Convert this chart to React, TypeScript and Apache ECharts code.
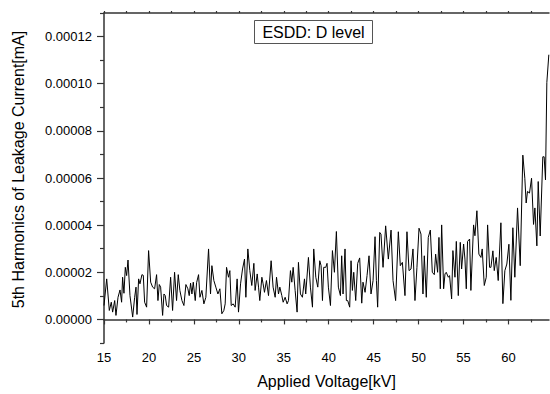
import React, { useEffect, useRef } from "react";
import * as echarts from "echarts";

const FONT = 'Arial, "Liberation Sans", Helvetica, sans-serif';
const UNIT = 1e-5; // harmonic values below are in units of 1e-5 mA

const voltage = [
  15.0, 15.3, 15.59, 15.81, 15.96, 16.19, 16.33, 16.56, 16.78, 16.96, 17.07, 17.22, 17.37, 17.52, 17.67, 17.89,
  18.19, 18.41, 18.56, 18.67, 18.85, 19.0, 19.22, 19.37, 19.52, 19.74, 19.96, 20.19, 20.41, 20.63, 20.85, 21.0,
  21.15, 21.3, 21.52, 21.67, 21.81, 21.96, 22.19, 22.41, 22.63, 22.85, 23.07, 23.26, 23.44, 23.67, 23.89, 24.11,
  24.33, 24.48, 24.63, 24.78, 24.93, 25.15, 25.3, 25.52, 25.67, 25.89, 26.11, 26.33, 26.63, 26.85, 27.0, 27.22,
  27.44, 27.67, 27.89, 28.11, 28.33, 28.48, 28.63, 28.85, 29.0, 29.15, 29.37, 29.59, 29.81, 29.96, 30.19, 30.41,
  30.63, 30.78, 31.0, 31.22, 31.44, 31.67, 31.81, 32.04, 32.19, 32.33, 32.56, 32.7, 32.85, 33.07, 33.3, 33.59,
  33.81, 34.04, 34.19, 34.41, 34.56, 34.78, 34.93, 35.15, 35.37, 35.52, 35.74, 35.89, 36.04, 36.26, 36.48, 36.63,
  36.85, 37.07, 37.3, 37.44, 37.74, 37.96, 38.19, 38.33, 38.56, 38.78, 39.0,
  39.15, 39.3, 39.44, 39.67, 39.81, 39.96, 40.19, 40.41, 40.63, 40.85, 41.07, 41.3, 41.44, 41.59, 41.81, 41.96,
  42.11, 42.33, 42.48, 42.63, 42.78, 43.0, 43.22, 43.44, 43.67, 43.81, 44.04, 44.26, 44.48, 44.7, 44.93, 45.15,
  45.3, 45.44, 45.67, 45.81, 46.04, 46.33, 46.63, 46.93, 47.15, 47.44, 47.74, 47.96, 48.19, 48.48, 48.7, 48.93,
  49.15, 49.37, 49.59, 49.81, 50.04, 50.26, 50.48, 50.63, 50.85, 51.07, 51.3, 51.52, 51.74, 51.89, 52.11, 52.26,
  52.41, 52.56, 52.78, 52.93, 53.07, 53.3, 53.44, 53.67, 53.81, 54.04, 54.19, 54.41, 54.63, 54.78, 55.0, 55.15,
  55.3, 55.44, 55.67, 55.81, 56.11, 56.26, 56.48, 56.7, 56.93, 57.07, 57.3, 57.52, 57.67, 57.89,
  58.04, 58.26, 58.41, 58.63, 58.85, 59.15, 59.37, 59.59, 59.81, 60.04, 60.26, 60.48, 60.7, 61.0, 61.3, 61.59,
  61.81, 61.96, 62.11, 62.33, 62.56, 62.78, 62.93, 63.15, 63.3, 63.52, 63.81, 63.96, 64.11, 64.26, 64.48,
];

const harmonic = [
  0.59, 1.72, 0.38, 0.73, 0.31, 0.8, 0.17, 0.94, 1.25, 0.73, 1.79, 1.11, 2.21, 1.86, 2.52, 1.01,
  0.1, 0.94, 1.37, 0.21, 1.72, 1.51, 1.9, 1.87, 0.73, 0.52, 2.92, 1.58, 1.37, 1.3, 1.9, 0.8,
  1.48, 1.37, 0.17, 1.08, 1.01, 0.59, 0.52, 1.79, 0.38, 2.0, 0.8, 1.9, 1.23, 0.8, 0.59, 1.48,
  1.3, 1.01, 1.54, 1.08, 1.58, 0.8, 1.56, 1.9, 0.94, 1.23, 0.66, 0.94, 2.99, 1.08, 2.28, 1.65,
  1.37, 1.08, 1.3, 0.24, 0.38, 0.66, 2.21, 1.79, 2.07, 0.59, 0.66, 0.52, 1.72, 0.31, 1.51, 2.14,
  2.56, 0.94, 2.99, 2.07, 1.44, 2.38, 1.23, 1.93, 1.37, 0.8, 1.79, 1.51, 1.15, 1.65, 1.01, 2.49,
  1.37, 0.94, 1.79, 1.08, 1.37, 1.01, 0.73, 0.94, 0.66, 0.8, 2.07, 1.58, 2.21, 1.23, 0.31, 2.42,
  1.08, 0.94, 1.72, 1.08, 2.63, 1.37, 0.52, 2.99, 1.79, 1.37, 2.49,
  2.28, 0.8, 2.21, 2.21, 2.38, 1.37, 0.59, 2.92, 2.0, 3.73, 1.37, 1.01, 2.7, 1.08, 2.99, 0.8,
  0.8, 0.52, 2.49, 1.23, 2.0, 0.8, 2.38, 2.61, 0.69, 1.58, 1.15, 1.86, 2.7, 1.08, 1.65, 3.51,
  1.65, 0.52, 3.69, 3.62, 2.21, 3.97, 2.56, 3.79, 1.65, 0.8, 3.72, 2.28, 2.42, 1.01, 3.72, 2.07,
  2.14, 2.99, 0.8, 2.21, 3.87, 3.62, 1.08, 2.7, 0.94, 3.48, 3.79, 2.0, 1.9, 2.77, 2.0, 3.48,
  1.3, 4.01, 1.3, 1.93, 2.0, 1.79, 1.86, 0.87, 2.92, 1.79, 3.31, 1.01, 3.27, 2.14, 3.2, 2.56,
  1.3, 3.31, 3.41, 1.23, 4.01, 3.55, 4.61, 2.77, 2.63, 2.99, 1.44, 1.79, 4.01, 2.21,
  2.21, 2.91, 2.07, 2.63, 1.65, 4.1, 0.67, 2.07, 2.35, 3.19, 0.81, 3.89, 1.79, 4.73, 2.28, 6.97,
  5.99, 4.94, 5.43, 5.36, 5.99, 4.03, 4.73, 3.12, 5.85, 3.54, 6.9, 6.9, 5.92, 10.05, 11.23,
];

const xMajorTicks = [15, 20, 25, 30, 35, 40, 45, 50, 55, 60];
const xMinorTicks = [17.5, 22.5, 27.5, 32.5, 37.5, 42.5, 47.5, 52.5, 57.5, 62.5];
const yMajorTicks = [0, 2, 4, 6, 8, 10, 12];
const yMinorTicks = [-1, 1, 3, 5, 7, 9, 11, 13];

const legendLabel = "ESDD: D level";
const xName = "Applied Voltage[kV]";
const yName = "5th Harmonics of Leakage Current[mA]";

export default function App() {
  const ref = useRef<HTMLDivElement>(null);

  useEffect(() => {
    if (!ref.current) return;
    const chart = echarts.init(ref.current, null, { renderer: "svg" });
    const axisColor = "#333";
    const data = voltage.map((v, i) => [v, harmonic[i] * UNIT]);
    const yMaj = yMajorTicks.map((k) => k * UNIT);
    const yMin = yMinorTicks.map((k) => k * UNIT);

    chart.setOption({
      animation: false,
      backgroundColor: "#fff",
      grid: { left: 104, right: 1, top: 13, bottom: 48, containLabel: false },
      xAxis: [
        {
          type: "value",
          position: "bottom",
          min: 15,
          max: 64.5,
          interval: 5,
          name: xName,
          nameLocation: "middle",
          nameGap: 30,
          nameTextStyle: { fontFamily: FONT, fontSize: 16, color: "#000" },
          axisLine: { show: true, lineStyle: { color: axisColor, width: 1.5 } },
          axisTick: { show: true, length: 5, inside: false, customValues: xMajorTicks, lineStyle: { color: axisColor, width: 1.2 } },
          axisLabel: {
            customValues: xMajorTicks,
            margin: 8,
            fontFamily: FONT,
            fontSize: 13,
            color: "#000",
            formatter: (v: number) => String(v),
          },
          splitLine: { show: false },
        },
        {
          type: "value",
          position: "bottom",
          min: 15,
          max: 64.5,
          axisLine: { show: false },
          axisTick: { show: true, length: 3, customValues: xMinorTicks, lineStyle: { color: axisColor, width: 1.2 } },
          axisLabel: { show: false },
          splitLine: { show: false },
        },
        {
          type: "value",
          position: "top",
          min: 15,
          max: 64.5,
          axisLine: { show: true, lineStyle: { color: axisColor, width: 1.5 } },
          axisTick: {
            show: true,
            length: 2,
            customValues: [...xMajorTicks, ...xMinorTicks],
            lineStyle: { color: axisColor, width: 1.2 },
          },
          axisLabel: { show: false },
          splitLine: { show: false },
        },
      ],
      yAxis: [
        {
          type: "value",
          position: "left",
          min: -1 * UNIT,
          max: 13 * UNIT,
          name: yName,
          nameLocation: "middle",
          nameGap: 78,
          nameTextStyle: { fontFamily: FONT, fontSize: 16, color: "#000", padding: [0, 0, 0, 17] },
          axisLine: { show: true, lineStyle: { color: axisColor, width: 1.5 } },
          axisTick: { show: true, length: 7, customValues: yMaj, lineStyle: { color: axisColor, width: 1.2 } },
          axisLabel: {
            customValues: yMaj,
            margin: 12,
            fontFamily: FONT,
            fontSize: 13,
            color: "#000",
            formatter: (v: number) => v.toFixed(5),
          },
          splitLine: { show: false },
        },
        {
          type: "value",
          position: "left",
          min: -1 * UNIT,
          max: 13 * UNIT,
          axisLine: { show: false },
          axisTick: { show: true, length: 4, customValues: yMin, lineStyle: { color: axisColor, width: 1.2 } },
          axisLabel: { show: false },
          splitLine: { show: false },
        },
      ],
      series: [
        {
          type: "line",
          name: legendLabel,
          xAxisIndex: 0,
          yAxisIndex: 0,
          data,
          showSymbol: false,
          symbol: "none",
          lineStyle: { color: "#000", width: 1 },
        },
      ],
      graphic: [
        {
          type: "group",
          left: 254,
          top: 20,
          children: [
            {
              type: "rect",
              shape: { x: 0, y: 0, width: 118, height: 23 },
              style: { fill: "#fff", stroke: "#555", lineWidth: 1 },
            },
            {
              type: "text",
              x: 59,
              y: 12,
              style: {
                text: legendLabel,
                fontFamily: FONT,
                fontSize: 16,
                fill: "#000",
                align: "center",
                verticalAlign: "middle",
              },
            },
          ],
        },
      ],
    });

    return () => chart.dispose();
  }, []);

  return (
    <div
      ref={ref}
      style={{ position: "fixed", left: 0, top: 0, width: 550, height: 394, background: "#fff" }}
    />
  );
}
